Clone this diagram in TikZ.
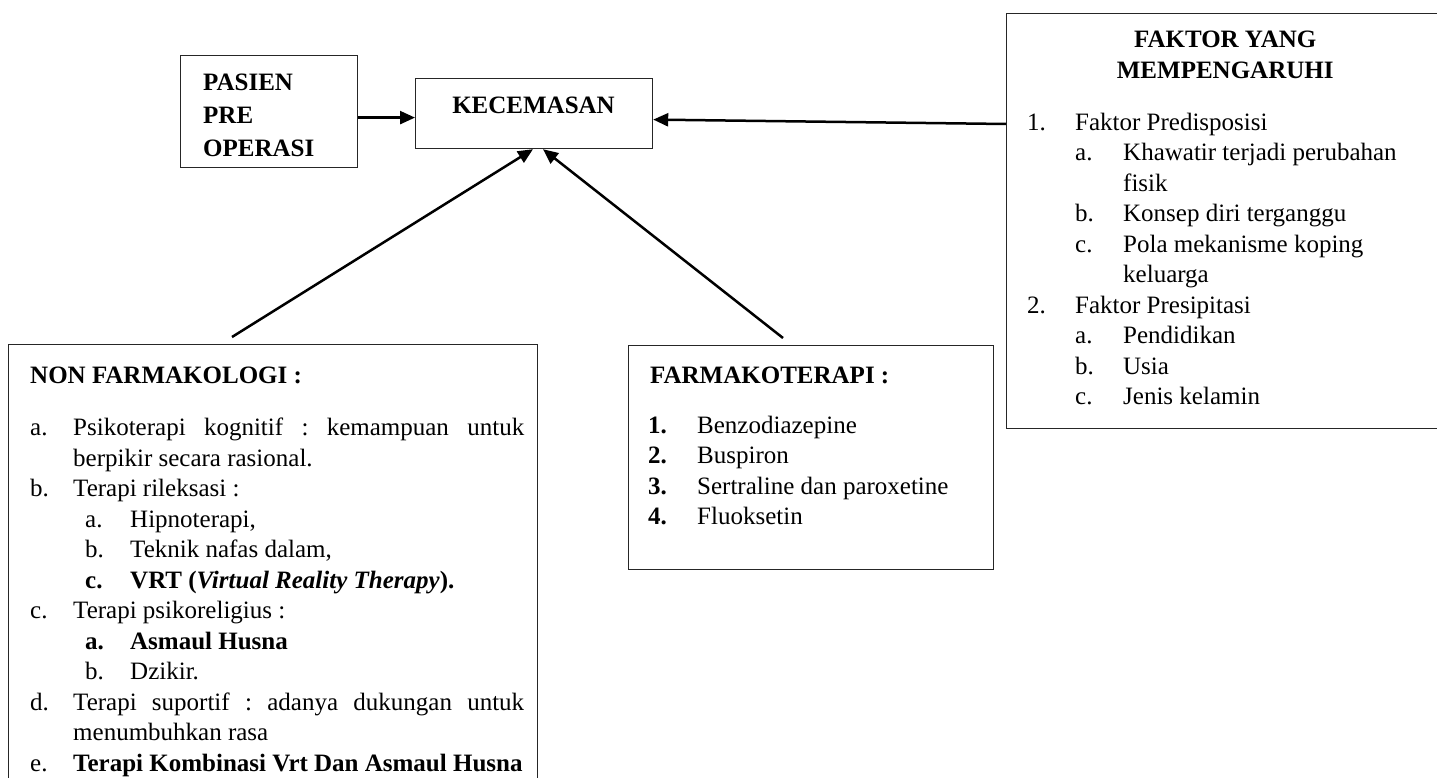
\documentclass[tikz,border=0pt]{standalone}
\usepackage{fontspec}
\setmainfont{Liberation Serif}
\usetikzlibrary{arrows.meta}
\frenchspacing
\newcommand\myitem[3]{\par\leftskip=#2\relax\noindent\llap{\makebox[\dimexpr#2-#1\relax][l]{#3}}\ignorespaces}
\tikzset{
  box/.style={draw=black!85, line width=1.2pt, inner sep=0pt, anchor=north west},
  txt/.style={inner sep=0pt, anchor=base west, font=\fontsize{25}{30.5}\selectfont},
  arr/.style={line width=2.5pt, -{Triangle[length=15pt,width=13pt]}},
}
\begin{document}
\begin{tikzpicture}[x=1pt,y=-1pt]
\useasboundingbox (0,0) rectangle (1437,778);
\clip (0,0) rectangle (1437,778);
\fill[white] (0,0) rectangle (1437,778);

% boxes
\node[box, minimum width=177pt, minimum height=112pt] (pasien) at (180,55) {};
\node[box, minimum width=237pt, minimum height=70pt] (kec) at (415,78) {};
\node[box, minimum width=450pt, minimum height=415pt] (faktor) at (1006,13) {};
\node[box, minimum width=529pt, minimum height=460pt] (nonfarm) at (8,344) {};
\node[box, minimum width=365pt, minimum height=224pt] (farmako) at (628,345) {};

% texts
\node[txt, font=\fontsize{25}{33}\selectfont\bfseries] (pasientext) at (203,90.5)
  {\begin{minipage}[t]{150pt}PASIEN\\PRE\\OPERASI\end{minipage}};
\node[txt, anchor=base, font=\fontsize{25}{30.5}\selectfont\bfseries] (kectext) at (533.5,113.5) {KECEMASAN};

\node[txt] (faktortext) at (1027,48) {\begin{minipage}[t]{396pt}
{\centering\bfseries FAKTOR YANG\\MEMPENGARUHI\par}
\vspace{21.5pt}
\raggedright
\myitem{0pt}{48pt}{1.}Faktor Predisposisi
\myitem{48pt}{96pt}{a.}Khawatir terjadi perubahan\\fisik
\myitem{48pt}{96pt}{b.}Konsep diri terganggu
\myitem{48pt}{96pt}{c.}Pola mekanisme koping\\keluarga
\myitem{0pt}{48pt}{2.}Faktor Presipitasi
\myitem{48pt}{96pt}{a.}Pendidikan
\myitem{48pt}{96pt}{b.}Usia
\myitem{48pt}{96pt}{c.}Jenis kelamin
\par\end{minipage}};

\node[txt] (nonfarmtext) at (30,383) {\begin{minipage}[t]{494pt}
\textbf{NON FARMAKOLOGI :}\par
\vspace{22pt}
\myitem{0pt}{43pt}{a.}Psikoterapi kognitif : kemampuan untuk\linebreak berpikir secara rasional.
\myitem{0pt}{43pt}{b.}Terapi rileksasi :
\myitem{55pt}{100pt}{a.}Hipnoterapi,
\myitem{55pt}{100pt}{b.}Teknik nafas dalam,
\myitem{55pt}{100pt}{\textbf{c.}}\textbf{VRT (\textit{Virtual Reality Therapy}).}
\myitem{0pt}{43pt}{c.}Terapi psikoreligius :
\myitem{55pt}{100pt}{\textbf{a.}}\textbf{Asmaul Husna}
\myitem{55pt}{100pt}{b.}Dzikir.
\myitem{0pt}{43pt}{d.}Terapi suportif : adanya dukungan untuk\linebreak menumbuhkan rasa
\myitem{0pt}{43pt}{e.}\textbf{Terapi Kombinasi Vrt Dan Asmaul Husna}
\par\end{minipage}};

\node[txt] (farmakotext) at (650,383) {\begin{minipage}[t]{330pt}
\textbf{FARMAKOTERAPI :}\par
\vspace{19.5pt}
\myitem{-2pt}{47pt}{\textbf{1.}}Benzodiazepine
\myitem{-2pt}{47pt}{\textbf{2.}}Buspiron
\myitem{-2pt}{47pt}{\textbf{3.}}Sertraline dan paroxetine
\myitem{-2pt}{47pt}{\textbf{4.}}Fluoksetin
\par\end{minipage}};

% connectors
\draw[arr] ([yshift=-6pt]pasien.east) -- ([yshift=-6pt]pasien.east -| kec.west);
\draw[arr] ([yshift=-111pt]faktor.north west) -- ([yshift=-6pt]kec.east);
\draw[arr] ([shift={(224pt,7pt)}]nonfarm.north west) -- ([xshift=118pt]kec.south west);
\draw[arr] ([shift={(155pt,7pt)}]farmako.north west) -- ([xshift=128pt]kec.south west);
\end{tikzpicture}
\end{document}
